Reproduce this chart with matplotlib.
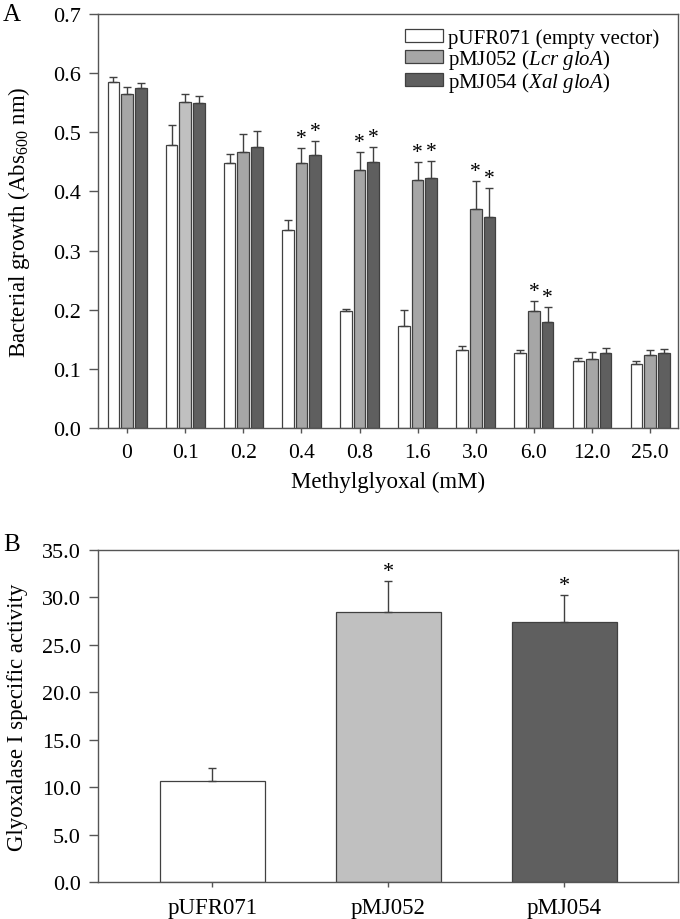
import matplotlib
matplotlib.use("Agg")
import matplotlib.pyplot as plt
import numpy as np

plt.rcParams["font.family"] = ["Liberation Serif", "DejaVu Serif"]
plt.rcParams["mathtext.fontset"] = "custom"
plt.rcParams["mathtext.rm"] = "Liberation Serif"
plt.rcParams["mathtext.it"] = "Liberation Serif:italic"

# ---- panel A data ----
conc_labels = ["0", "0.1", "0.2", "0.4", "0.8", "1.6", "3.0", "6.0", "12.0", "25.0"]
empty_mean = [0.585, 0.478, 0.448, 0.334, 0.197, 0.173, 0.132, 0.127, 0.113, 0.109]
empty_err = [0.009, 0.034, 0.016, 0.018, 0.004, 0.027, 0.007, 0.005, 0.005, 0.005]
lcr_mean = [0.564, 0.552, 0.467, 0.448, 0.437, 0.419, 0.370, 0.198, 0.117, 0.123]
lcr_err = [0.013, 0.013, 0.030, 0.026, 0.030, 0.030, 0.047, 0.016, 0.011, 0.009]
xal_mean = [0.575, 0.549, 0.475, 0.462, 0.449, 0.422, 0.356, 0.179, 0.127, 0.127]
xal_err = [0.008, 0.013, 0.028, 0.024, 0.026, 0.029, 0.050, 0.026, 0.009, 0.006]
lcr_sig = [False, False, False, True, True, True, True, True, False, False]
xal_sig = [False, False, False, True, True, True, True, True, False, False]

# ---- panel B data ----
plasmids = ["pUFR071", "pMJ052", "pMJ054"]
activity = [10.64, 28.44, 27.45]
activity_err = [1.43, 3.26, 2.84]
activity_sig = [False, True, True]

EDGE = "#404040"
AX = "#555555"
c_white = "#ffffff"
c_gray = "#a6a6a6"
c_dark = "#5f5f5f"
c_light = "#c0c0c0"

fig = plt.figure(figsize=(6.8, 9.2), dpi=100)
axA = fig.add_axes([98 / 680, 1 - 429 / 920, 580 / 680, 414 / 920])
axB = fig.add_axes([98 / 680, 1 - 883 / 920, 580 / 680, 332 / 920])


def style(ax, xsize=15.5):
    for s in ax.spines.values():
        s.set_color(AX)
        s.set_linewidth(1.0)
    ax.tick_params(axis="y", direction="out", length=6.5, width=1.0, color=AX,
                   labelsize=16, pad=6)
    ax.tick_params(axis="x", direction="out", length=3.6, width=1.0, color=AX,
                   labelsize=xsize, pad=7)


# -------------------------
# A: growth vs methylglyoxal
# -------------------------
x = np.arange(len(conc_labels))
step = 0.235
width = 0.2
series = [
    (empty_mean, empty_err, [c_white] * len(x), None, "pUFR071 (empty vector)"),
    (lcr_mean, lcr_err, [c_light if i == 1 else c_gray for i in x], lcr_sig,
     r"pMJ052 ($\mathit{Lcr\ gloA}$)"),
    (xal_mean, xal_err, [c_dark] * len(x), xal_sig, r"pMJ054 ($\mathit{Xal\ gloA}$)"),
]
handles = []
for k, (m, e, cols, sig, lab) in enumerate(series):
    xs = x + (k - 1) * step
    axA.bar(xs, m, width=width, color=cols, edgecolor=EDGE, linewidth=0.9, zorder=2)
    axA.errorbar(xs, m, yerr=[np.zeros(len(e)), e], fmt="none", ecolor=EDGE,
                 elinewidth=1.0, capsize=3, capthick=1.0, zorder=3)
    h = plt.Rectangle((0, 0), 1, 1, facecolor=cols[0], edgecolor=EDGE, linewidth=0.9)
    handles.append((h, lab))
    if sig is not None:
        for xi, mi, ei, s in zip(xs, m, e, sig):
            if s:
                axA.annotate("*", (xi, mi + ei), xytext=(0, 0),
                             textcoords="offset points", ha="center", va="bottom",
                             fontsize=15.5)

axA.set_xlim(-0.5, 9.48)
axA.set_ylim(0, 0.7)
axA.set_yticks(np.arange(0, 0.71, 0.1))
axA.set_yticklabels([f"{v:.1f}" for v in np.arange(0, 0.71, 0.1)])
axA.set_xticks(x)
axA.set_xticklabels(conc_labels)
axA.set_xlabel("Methylglyoxal (mM)", fontsize=16.5, va="top")
axA.xaxis.set_label_coords(0.5, -0.104)
axA.set_ylabel(r"Bacterial growth (Abs$_{600}$ nm)", fontsize=16.5)
axA.yaxis.set_label_coords(-0.114, 0.5)
style(axA)
axA.legend([h for h, _ in handles], [l for _, l in handles], loc="upper left",
           bbox_to_anchor=(0.529, 0.966), frameon=False, fontsize=15,
           handlelength=1.85, handleheight=0.55, handletextpad=0.2,
           labelspacing=-0.05, borderpad=0, borderaxespad=0)

# -------------------------
# B: glyoxalase I activity
# -------------------------
xb = np.arange(len(plasmids))
axB.bar(xb, activity, width=0.6, color=[c_white, c_light, c_dark], edgecolor=EDGE,
        linewidth=0.9, zorder=2)
axB.errorbar(xb, activity, yerr=[np.zeros(3), activity_err], fmt="none", ecolor=EDGE,
             elinewidth=1.0, capsize=3, capthick=1.0, zorder=3)
for xi, mi, ei, s in zip(xb, activity, activity_err, activity_sig):
    if s:
        axB.annotate("*", (xi, mi + ei), xytext=(0, 0), textcoords="offset points",
                     ha="center", va="bottom", fontsize=16)
axB.set_xlim(-0.65, 2.645)
axB.set_ylim(0, 35)
axB.set_yticks(np.arange(0, 35.1, 5))
axB.set_yticklabels([f"{v:.1f}" for v in np.arange(0, 35.1, 5)])
axB.set_xticks(xb)
axB.set_xticklabels(plasmids)
axB.set_ylabel("Glyoxalase I specific activity", fontsize=16.5)
axB.yaxis.set_label_coords(-0.12, 0.5)
style(axB, xsize=16.5)

fig.text(3 / 680, 1 - 15 / 920, "A", fontsize=18, va="center", ha="left")
fig.text(3 / 680, 1 - 545 / 920, "B", fontsize=18, va="center", ha="left")

fig.savefig("out.png", dpi=100)
